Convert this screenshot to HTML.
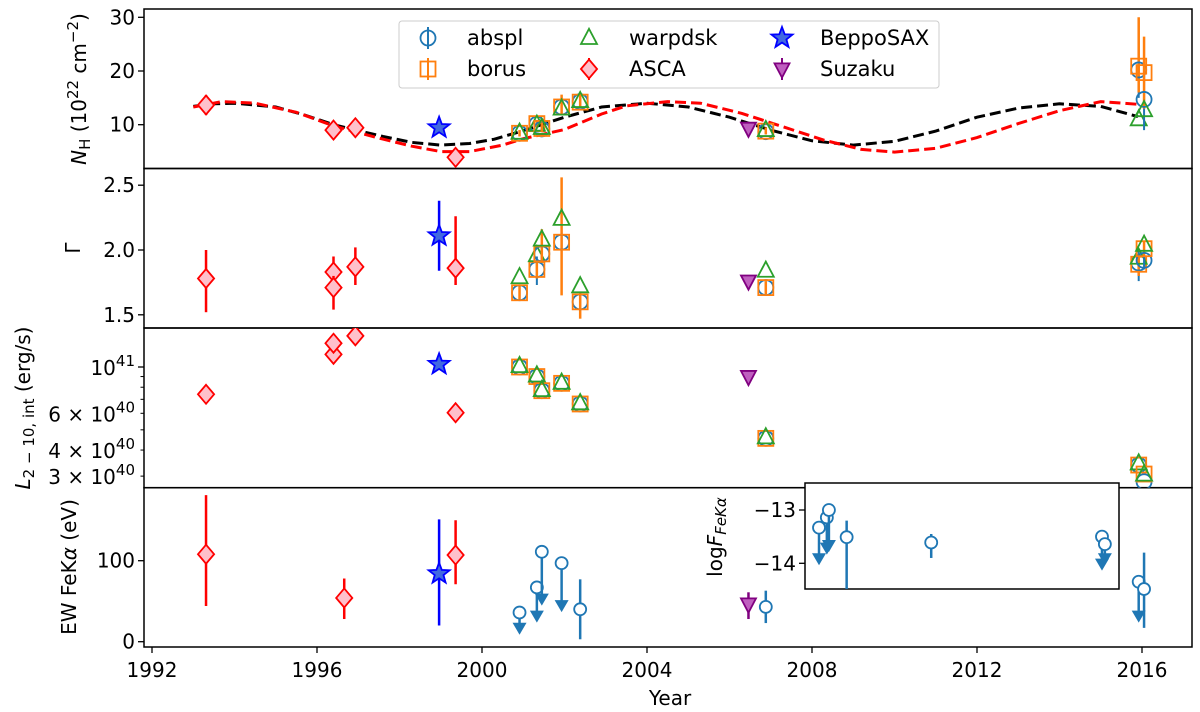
<!DOCTYPE html>
<html><head><meta charset="utf-8"><style>
html,body{margin:0;padding:0;background:#fff;}
svg{display:block;font-family:"DejaVu Sans","Liberation Sans",sans-serif;}
</style></head><body>
<svg id="fig" width="1200" height="712" viewBox="0 0 1200 712" xmlns="http://www.w3.org/2000/svg"></svg>
<script>
// ---------- data ----------
const xTicks=[1992,1996,2000,2004,2008,2012,2016];
const nhTicks=[10,20,30];
const gTicks=[1.5,2.0,2.5];
const lMajor=[10];           // in 1e40
const lMinor=[3,4,5,6,7,8,9];
const lLabeled=[3,4,6];
const ewTicks=[0,100];
const inTicks=[-13,-14];

// Model fit epochs
const modelYears=[2000.91,2001.33,2001.45,2001.93,2002.38,2006.88,2015.92,2016.05];
const absplNH=[8.4,10.1,9.2,13.3,14.3,8.7,20.2,14.7];
const absplNHlo=[7.9,9.5,8.6,12.5,13.6,8.2,15.0,9.0];
const absplNHhi=[8.9,10.7,9.8,14.1,15.0,9.2,29.5,21.0];
const borusNH=[8.4,10.2,9.3,13.3,14.2,8.8,20.9,19.7];
const borusNHlo=[7.8,9.5,8.6,12.0,13.3,8.2,16.0,13.0];
const borusNHhi=[9.0,10.9,10.5,15.6,15.5,9.5,30.0,26.4];
const warpNH=[8.5,10.0,9.4,13.0,14.4,9.0,11.0,12.7];
const absplG=[1.67,1.85,1.97,2.06,1.60,1.71,1.90,1.92];
const absplGlo=[1.61,1.73,1.91,2.00,1.54,1.67,1.76,1.85];
const absplGhi=[1.73,1.95,2.03,2.12,1.66,1.75,2.00,1.99];
const borusG=[1.67,1.85,1.97,2.06,1.60,1.71,1.89,2.01];
const borusGlo=[1.62,1.78,1.90,1.65,1.47,1.66,1.80,1.95];
const borusGhi=[1.72,1.92,2.16,2.56,1.68,1.76,1.97,2.07];
const warpG=[1.79,1.96,2.08,2.24,1.72,1.84,1.94,2.04];
const absplL=[10.0,9.0,7.7,8.35,6.65,4.55,3.39,2.82];
const borusL=[10.0,9.0,7.7,8.35,6.65,4.55,3.39,3.07];
const warpL=[10.1,9.1,7.75,8.4,6.7,4.6,3.45,3.05];

// ASCA
const ascaNHYears=[1993.31,1996.40,1996.93,1999.36];
const ascaNH=[13.67,9.0,9.44,3.93];
const ascaNHlo=[11.8,8.2,8.8,3.3];
const ascaNHhi=[15.5,9.8,10.1,4.6];
const ascaGYears=[1993.31,1996.40,1996.40,1996.93,1999.36];
const ascaG=[1.78,1.83,1.71,1.87,1.86];
const ascaGlo=[1.52,1.76,1.54,1.73,1.73];
const ascaGhi=[2.00,1.95,1.80,2.02,2.26];
const ascaLYears=[1993.31,1996.40,1996.40,1996.93,1999.36];
const ascaL=[7.4,11.5,13.0,14.1,6.04];
const ascaEWYears=[1993.31,1996.66,1999.36];
const ascaEW=[108,54,107];
const ascaEWlo=[44,28,71];
const ascaEWhi=[181,78,150];

// BeppoSAX
const saxYear=[1998.96];
const saxNH=[9.44];
const saxG=[2.11]; const saxGlo=[1.84]; const saxGhi=[2.38];
const saxL=[10.3];
const saxEW=[84]; const saxEWlo=[20]; const saxEWhi=[151];

// Suzaku
const suzYear=[2006.46];
const suzNH=[9.33];
const suzG=[1.76];
const suzL=[9.0];
const suzEW=[46.5]; const suzEWlo=[28]; const suzEWhi=[61];

// EW Fe Ka (abspl)
const ewYears=[2000.91,2001.33,2001.45,2001.93,2002.38,2006.88,2015.92,2016.05];
const ewVal=[36,67,111,97,40,43,74,65];
const ewLo=[11,26,47,39,3,23,26,17];
const ewHi=[36,67,111,97,77,63,74,110];
const ewUL=[1,1,1,1,0,0,1,0];

// inset log F
const inYears=[2008.17,2008.36,2008.41,2008.84,2010.89,2015.03,2015.10];
const inVal=[-13.33,-13.14,-13.0,-13.51,-13.61,-13.50,-13.64];
const inLo=[-14.0,-13.8,-13.75,-14.6,-13.90,-14.1,-14.0];
const inHi=[-13.33,-13.14,-13.0,-13.2,-13.45,-13.50,-13.64];
const inUL=[1,1,1,0,0,1,1];

// model curves (NH)
const blackYears=[1993.0,1993.5,1994,1995,1995.7,1996.4,1997,1997.6,1998.3,1999,1999.7,2000.3,2001,2002,2002.9,2004,2005,2006,2007,2008,2009,2010,2011,2012,2013,2014,2015,2015.9];
const blackNH=[13.4,13.9,14.0,13.3,11.8,10.0,8.9,7.8,6.7,6.2,6.5,7.3,8.9,11.4,13.3,14.0,13.3,11.4,9.0,7.0,6.2,6.9,8.8,11.4,13.1,13.9,13.4,11.5];
const redYears=[1993.0,1993.7,1994.5,1995.5,1996.4,1997.5,1998.3,1999,1999.7,2000.5,2001,2002,2002.9,2003.5,2004.5,2005.3,2006.3,2007.3,2008.3,2009.2,2010,2011,2012,2013,2014,2015,2015.9];
const redNH=[13.3,14.3,14.0,12.3,9.8,7.5,6.0,5.0,5.0,6.2,7.4,9.1,12.0,13.5,14.3,14.0,12.1,9.6,7.1,5.4,4.9,5.6,7.6,10.2,12.6,14.3,13.8];

// ---------- geometry ----------
const L=144,R=1192;
const P=[[9,168.5],[168.5,328],[328,487.7],[487.7,647]];
const xs=y=>152+(y-1992)*41.25;
const y1=v=>124.7-(v-10)*5.37;
const y2=v=>250-(v-2)*129.6;
const y3=v=>367-(Math.log10(v*1e40)-41)*208.7;
const y4=v=>641.7-v*0.81;
const yi=v=>510-(v+13)*53.3;
const IN={l:805,r:1119,t:483,b:589};
const FS=20;

const NS="http://www.w3.org/2000/svg";
const svg=document.getElementById('fig');
function mk(tag,attrs,parent){const e=document.createElementNS(NS,tag);for(const k in attrs)e.setAttribute(k,attrs[k]);(parent||svg).appendChild(e);return e;}

const defs=mk('defs',{});
P.forEach((p,i)=>{const c=mk('clipPath',{id:'clip'+i},defs);mk('rect',{x:L,y:p[0],width:R-L,height:p[1]-p[0]},c);});
const ci=mk('clipPath',{id:'clipIn'},defs);mk('rect',{x:IN.l,y:IN.t,width:IN.r-IN.l,height:IN.b-IN.t},ci);

const C={ab:'#1f77b4',bo:'#ff7f0e',wa:'#2ca02c',asca:'#ff0000',pink:'#ffc0cb',sax:'#0000ff',saxf:'#4169e1',suz:'#800080',suzf:'#bf5fbf'};

function marker(g,type,x,y,s,stroke,fill,sw){
  let e;
  if(type==='o'){e=mk('circle',{cx:x,cy:y,r:s},g);}
  else if(type==='s'){e=mk('rect',{x:x-s,y:y-s,width:2*s,height:2*s},g);}
  else if(type==='^'){e=mk('polygon',{points:`${x},${y-s*1.15} ${x-s},${y+s*0.75} ${x+s},${y+s*0.75}`},g);}
  else if(type==='v'){e=mk('polygon',{points:`${x},${y+s*1.15} ${x-s},${y-s*0.75} ${x+s},${y-s*0.75}`},g);}
  else if(type==='D'){e=mk('polygon',{points:`${x},${y-s} ${x+s*0.85},${y} ${x},${y+s} ${x-s*0.85},${y}`},g);}
  else if(type==='*'){let pts=[];for(let k=0;k<10;k++){const a=-Math.PI/2+k*Math.PI/5;const r=k%2?s*0.42:s;pts.push((x+r*Math.cos(a)).toFixed(1)+','+(y+r*Math.sin(a)).toFixed(1));}e=mk('polygon',{points:pts.join(' ')},g);}
  e.setAttribute('stroke',stroke);e.setAttribute('fill',fill);e.setAttribute('stroke-width',sw||1.8);
  return e;
}
function ebar(g,x,ya,yb,col,w){return mk('line',{x1:x,x2:x,y1:ya,y2:yb,stroke:col,'stroke-width':w||2.5},g);}
function arrow(g,x,y0,y1v,col){mk('line',{x1:x,x2:x,y1:y0,y2:y1v-6,stroke:col,'stroke-width':2.5},g);mk('polygon',{points:`${x-7},${y1v-10} ${x+7},${y1v-10} ${x},${y1v+2}`,fill:col},g);}

function text(t,x,y,anchor,size,parent){return mk('text',{x:x,y:y,'text-anchor':anchor||'end','font-size':size||FS,fill:'#000'},parent);}

const axisG=mk('g',{});


function yTick(y,label,g){mk('line',{x1:L-6,x2:L,y1:y,y2:y,stroke:'#000','stroke-width':1.3},g);if(label!==null){const t=text('',L-9,y+7,'end',FS,g);t.textContent=label;}}

nhTicks.forEach(v=>yTick(y1(v),String(v),axisG));
gTicks.forEach(v=>yTick(y2(v),v.toFixed(1),axisG));
ewTicks.forEach(v=>yTick(y4(v),String(v),axisG));
lMinor.forEach(v=>{mk('line',{x1:L-3.5,x2:L,y1:y3(v),y2:y3(v),stroke:'#000','stroke-width':1},axisG);});
lMajor.forEach(v=>{const y=y3(v);mk('line',{x1:L-6,x2:L,y1:y,y2:y,stroke:'#000','stroke-width':1.3},axisG);const t=text('',L-9,y+8,'end',FS,axisG);t.innerHTML='10<tspan dy="-9" font-size="15">41</tspan>';});
lLabeled.forEach(v=>{const y=y3(v);const t=text('',L-9,y+8,'end',FS,axisG);t.innerHTML=v+' × 10<tspan dy="-9" font-size="15">40</tspan>';});
xTicks.forEach(v=>{const x=xs(v);mk('line',{x1:x,x2:x,y1:647,y2:653,stroke:'#000','stroke-width':1.3},axisG);const t=text('',x,677,'middle',FS,axisG);t.textContent=String(v);});

function rotLabel(html,x,y,name){const t=mk('text',{x:x,y:y,'text-anchor':'middle','font-size':FS,transform:`rotate(-90 ${x} ${y})`,fill:'#000'});t.innerHTML=html;return t;}
rotLabel('<tspan font-style="italic">N</tspan><tspan font-size="15" dy="4">H</tspan><tspan dy="-4"> (10</tspan><tspan font-size="15" dy="-8">22</tspan><tspan dy="8"> cm</tspan><tspan font-size="15" dy="-8">−2</tspan><tspan dy="8">)</tspan>',86,89,'nh-axis-title');
rotLabel('Γ',80,248,'gamma-axis-title');
rotLabel('<tspan font-style="italic">L</tspan><tspan font-size="15" dy="4">2 − 10, int</tspan><tspan dy="-4"> (erg/s)</tspan>',30,408,'luminosity-axis-title');
rotLabel('EW FeK<tspan font-style="italic">α</tspan> (eV)',76,567,'ew-axis-title');
const xl=text('',670,705,'middle',FS);xl.textContent='Year';



// ---------- panel 1 ----------
const g1=mk('g',{'clip-path':'url(#clip0)'});


function poly(years,vals,yf,col,g,name){const d=years.map((y,i)=>(i?'L':'M')+xs(y).toFixed(1)+','+yf(vals[i]).toFixed(1)).join(' ');const p=mk('path',{d:d,fill:'none',stroke:col,'stroke-width':3,'stroke-dasharray':'11,5'},g);}
poly(blackYears,blackNH,y1,'#000',g1,'black-model-curve');
poly(redYears,redNH,y1,'#ff0000',g1,'red-model-curve');

function models(g,yf,ab,abl,abh,bo,bol,boh,wa,name){
  modelYears.forEach((yr,i)=>{const x=xs(yr);
    if(abl){ebar(g,x,yf(abl[i]),yf(abh[i]),C.ab,2);}
    if(bol){ebar(g,x,yf(bol[i]),yf(boh[i]),C.bo,2.5);}
    const m1=marker(g,'o',x,yf(ab[i]),7.5,C.ab,'none',1.8);
    
    
    const m2=marker(g,'s',x,yf(bo[i]),7.5,C.bo,'none',1.8);
    
    
    const m3=marker(g,'^',x,yf(wa[i]),8,C.wa,'none',1.8);
    
    
  });
}
function obs(g,type,years,vals,lo,hi,yf,col,fill,size,name){
  years.forEach((yr,i)=>{const x=xs(yr);
    if(lo){ebar(g,x,yf(lo[i]),yf(hi[i]),col,2.5);}
    const m=marker(g,type,x,yf(vals[i]),size,col,fill,1.8);
    
    
  });
}
models(g1,y1,absplNH,absplNHlo,absplNHhi,borusNH,borusNHlo,borusNHhi,warpNH,'nh');
obs(g1,'D',ascaNHYears,ascaNH,ascaNHlo,ascaNHhi,y1,C.asca,C.pink,9.5,'asca-nh-point');
obs(g1,'*',saxYear,saxNH,null,null,y1,C.sax,C.saxf,11,'beppo-nh-point');
obs(g1,'v',suzYear,suzNH,null,null,y1,C.suz,C.suzf,7.5,'suzaku-nh-point');

// ---------- panel 2 ----------
const g2=mk('g',{'clip-path':'url(#clip1)'});


models(g2,y2,absplG,absplGlo,absplGhi,borusG,borusGlo,borusGhi,warpG,'gamma');
obs(g2,'D',ascaGYears,ascaG,ascaGlo,ascaGhi,y2,C.asca,C.pink,9.5,'asca-gamma-point');
obs(g2,'*',saxYear,saxG,saxGlo,saxGhi,y2,C.sax,C.saxf,11,'beppo-gamma-point');
obs(g2,'v',suzYear,suzG,null,null,y2,C.suz,C.suzf,7.5,'suzaku-gamma-point');

// ---------- panel 3 ----------
const g3=mk('g',{'clip-path':'url(#clip2)'});


models(g3,y3,absplL,null,null,borusL,null,null,warpL,'lum');
obs(g3,'D',ascaLYears,ascaL,null,null,y3,C.asca,C.pink,9.5,'asca-lum-point');
obs(g3,'*',saxYear,saxL,null,null,y3,C.sax,C.saxf,11,'beppo-lum-point');
obs(g3,'v',suzYear,suzL,null,null,y3,C.suz,C.suzf,7.5,'suzaku-lum-point');

// ---------- panel 4 ----------
const g4=mk('g',{'clip-path':'url(#clip3)'});


obs(g4,'D',ascaEWYears,ascaEW,ascaEWlo,ascaEWhi,y4,C.asca,C.pink,9.5,'asca-ew-point');
obs(g4,'*',saxYear,saxEW,saxEWlo,saxEWhi,y4,C.sax,C.saxf,11,'beppo-ew-point');
obs(g4,'v',suzYear,suzEW,suzEWlo,suzEWhi,y4,C.suz,C.suzf,7.5,'suzaku-ew-point');
ewYears.forEach((yr,i)=>{const x=xs(yr);
  if(ewUL[i]){arrow(g4,x,y4(ewVal[i]),y4(ewLo[i]),C.ab);}else{ebar(g4,x,y4(ewLo[i]),y4(ewHi[i]),C.ab,2.5);}
  const m=marker(g4,'o',x,y4(ewVal[i]),6,C.ab,'#fff',1.8);
  
  
});

P.forEach(p=>{mk('rect',{x:L,y:p[0],width:R-L,height:p[1]-p[0],fill:'none',stroke:'#000','stroke-width':1.5},axisG);});

// ---------- inset ----------
const gi=mk('g',{});


mk('rect',{x:IN.l,y:IN.t,width:IN.r-IN.l,height:IN.b-IN.t,fill:'#fff',stroke:'#000','stroke-width':1.5},gi);
const gic=mk('g',{'clip-path':'url(#clipIn)'},gi);
inYears.forEach((yr,i)=>{const x=xs(yr);
  if(inUL[i]){arrow(gic,x,yi(inVal[i]),yi(inLo[i]),C.ab);}else{ebar(gic,x,yi(inLo[i]),yi(inHi[i]),C.ab,2.5);}
  const m=marker(gic,'o',x,yi(inVal[i]),6,C.ab,'#fff',1.8);
  
  
});
inTicks.forEach(v=>{const y=yi(v);mk('line',{x1:IN.l-6,x2:IN.l,y1:y,y2:y,stroke:'#000','stroke-width':1.3},gi);const t=text('',IN.l-9,y+7,'end',FS,gi);t.textContent='−'+Math.abs(v);});
const il=mk('text',{x:722,y:537,'text-anchor':'middle','font-size':FS,transform:'rotate(-90 722 537)'},gi);
il.innerHTML='log<tspan font-style="italic">F</tspan><tspan font-size="15" dy="4" font-style="italic">FeKα</tspan>';



// ---------- legend ----------
const lg=mk('g',{});


mk('rect',{x:399,y:21,width:540,height:67,rx:3,fill:'#fff','fill-opacity':0.85,stroke:'#ccc','stroke-width':1},lg);
const legItems=[
 ['o',428,38,C.ab,'none','abspl',467],['s',428,69,C.bo,'none','borus',467],
 ['^',589,38,C.wa,'none','warpdsk',629],['D',589,69,C.asca,C.pink,'ASCA',629],
 ['*',782,38,C.sax,C.saxf,'BeppoSAX',820],['v',782,69,C.suz,C.suzf,'Suzaku',820]];
legItems.forEach(it=>{
  const e=mk('g',{},lg);
  
  
  const sz={o:7.5,s:7.5,'^':8,D:9.5,'*':11,v:7.5}[it[0]];
  if(it[0]==='o'||it[0]==='s'||it[0]==='v'||it[0]==='D'){ebar(e,it[1],it[2]-11,it[2]+11,it[3],2);}
  marker(e,it[0],it[1],it[2],sz,it[3],it[4],1.8);
  const t=text('',it[6],it[2]+7,'start',21,e);t.textContent=it[5];
});
</script>
</body></html>
